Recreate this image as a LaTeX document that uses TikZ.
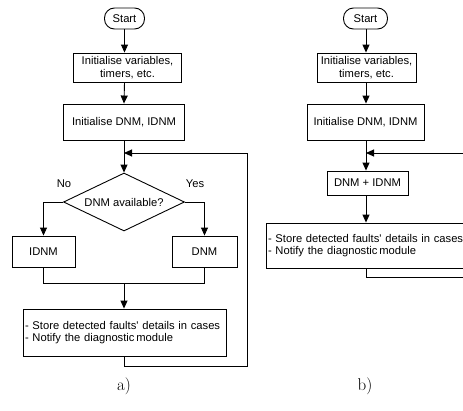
\documentclass[tikz,border=0pt]{standalone}
\usepackage{fontspec}
\newfontfamily\arialf{Liberation Sans}
\usetikzlibrary{shapes.geometric,arrows.meta}
\tikzset{
  arr/.style={-{Triangle[length=8pt,width=7pt]}},
  txt/.style={font=\arialf\fontsize{11.2}{12.5}\selectfont, text=black},
  box/.style={txt, draw, rectangle, inner sep=1pt, align=center},
  term/.style={txt, draw, rectangle, rounded corners=10pt, inner sep=1pt, minimum height=21pt},
  dia/.style={txt, draw, diamond, inner sep=0pt, aspect=2},
  captxt/.style={font=\fontsize{17}{19}\selectfont}
}
\begin{document}
\begin{tikzpicture}[x=1pt,y=-1pt,line width=0.9pt]
\clip (0,0) rectangle (463,410);
\useasboundingbox (0,0) rectangle (463,410);
% ---------- a) ----------
\node[term, minimum width=40pt] (s1) at (124.5,18.5) {Start};
\node[box, minimum width=108pt, minimum height=29pt] (v1) at (127.5,67.5) {Initialise variables,\\timers, etc.};
\node[box, minimum width=121pt, minimum height=36pt] (d1) at (124,122) {Initialise DNM, IDNM};
\coordinate (m1) at (124,153);
\node[dia, minimum width=121pt, minimum height=58pt] (q1) at (124,202) {DNM available?};
\node[txt] (no) at (64,184) {No};
\node[txt] (yes) at (195,184) {Yes};
\node[box, minimum width=63pt, minimum height=31pt] (id) at (43.5,251.5) {IDNM};
\node[box, minimum width=65pt, minimum height=31pt] (dn) at (204.5,251.5) {DNM};
\coordinate (j1) at (124,283);
\node[box, minimum width=203pt, minimum height=47pt, align=left, text width=199pt] (st) at (124.5,332.5) {- Store detected faults' details in cases\\- Notify the diagnostic\,module};
\coordinate (lb) at (247,366);
\coordinate (lt) at (247,153);
\node[captxt] (ca) at (124,386) {a)};

\draw[arr] (s1.south) -- (s1.south |- v1.north);
\draw[arr] (s1.south |- v1.south) -- (d1.north);
\draw (d1.south) -- (m1);
\draw[arr] (m1) -- (q1.north);
\draw[arr] (q1.west) -| (id.north);
\draw[arr] (q1.east) -| (dn.north);
\draw (id.south) |- (j1);
\draw (dn.south) |- (j1);
\draw[arr] (j1) -- (st.north -| j1);
\draw (st.south -| j1) |- (lb) -- (lt);
\draw[arr] (lt) -- (m1);

% ---------- b) ----------
\node[term, minimum width=44pt] (s2) at (365.5,18.5) {Start};
\node[box, minimum width=99pt, minimum height=29pt] (v2) at (366.5,67.5) {Initialise variables,\\timers, etc.};
\node[box, minimum width=117pt, minimum height=36pt] (d2) at (365.5,122) {Initialise DNM, IDNM};
\coordinate (m2) at (366,153);
\coordinate (r2) at (470,153);
\node[box, minimum width=81pt, minimum height=24pt] (b2) at (367.5,183) {DNM + IDNM};
\node[box, minimum width=203pt, minimum height=45pt, align=left, text width=199pt] (st2) at (367.5,245.5) {- Store detected faults' details in cases\\- Notify the diagnostic\,module};
\coordinate (rb) at (470,277);
\node[captxt] (cb) at (365,386) {b)};

\draw[arr] (s2.south -| m2) -- (v2.north -| m2);
\draw[arr] (v2.south -| m2) -- (d2.north -| m2);
\draw (d2.south -| m2) -- (m2);
\draw[arr] (m2) -- (b2.north -| m2);
\draw[arr] (r2) -- (m2);
\draw[arr] (b2.south -| m2) -- (st2.north -| m2);
\draw (st2.south -| m2) |- (rb);
\end{tikzpicture}
\end{document}
